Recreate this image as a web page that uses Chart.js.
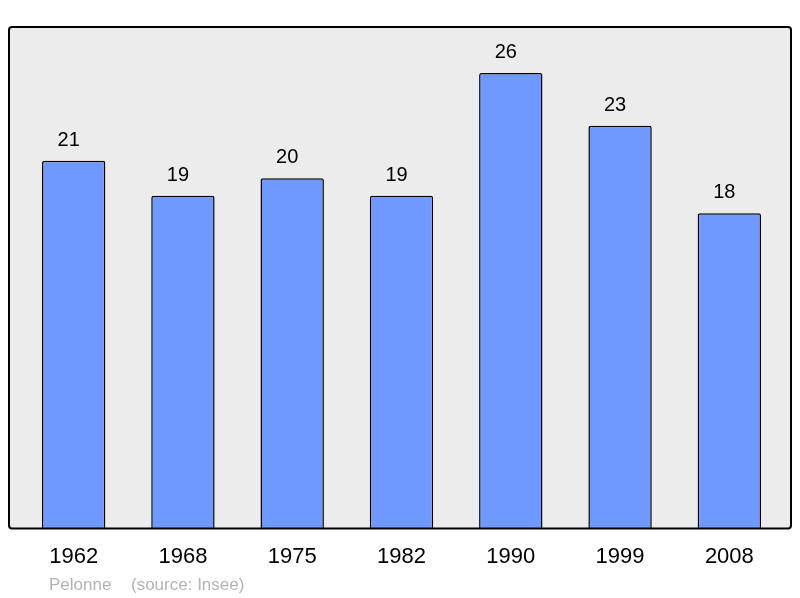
<!DOCTYPE html>
<html>
<head>
<meta charset="utf-8">
<script src="https://cdn.jsdelivr.net/npm/chart.js@4/dist/chart.umd.min.js"></script>
<style>
  html, body { margin: 0; padding: 0; background: #fff; }
  canvas { display: block; }
</style>
</head>
<body>
<canvas id="chart" width="800" height="598"></canvas>
<script>
const years = ['1962', '1968', '1975', '1982', '1990', '1999', '2008']
const population = [21, 19, 20, 19, 26, 23, 18]
const place = 'Pelonne'
const source = '(source: Insee)'

const FONT = '"Liberation Sans", Arial, sans-serif'

// grey frame behind the bars, black outline on top
const frame = {
  id: 'frame',
  path(ctx, a) {
    const x = a.left - 10, y = a.top, w = a.right + 7 - x, h = a.bottom - y, r = 3
    ctx.beginPath()
    ctx.roundRect(x, y, w, h, r)
  },
  beforeDatasetsDraw(chart) {
    const ctx = chart.ctx
    ctx.save()
    this.path(ctx, chart.chartArea)
    ctx.fillStyle = '#ececec'
    ctx.fill()
    ctx.restore()
  },
  afterDatasetsDraw(chart) {
    const ctx = chart.ctx
    ctx.save()
    this.path(ctx, chart.chartArea)
    ctx.lineWidth = 2
    ctx.strokeStyle = '#000'
    ctx.stroke()

    // values above bars
    ctx.fillStyle = '#000'
    ctx.font = '20px ' + FONT
    ctx.textAlign = 'center'
    ctx.textBaseline = 'alphabetic'
    chart.getDatasetMeta(0).data.forEach((bar, i) => {
      ctx.fillText(String(population[i]), bar.x - 5, bar.y - 15)
    })

    // footer
    ctx.fillStyle = '#b3b3b3'
    ctx.font = '17px ' + FONT
    ctx.textAlign = 'left'
    ctx.fillText(place, 49, 590)
    ctx.fillText(source, 131, 590)
    ctx.restore()
  },
}

new Chart(document.getElementById('chart'), {
  type: 'bar',
  data: {
    labels: years,
    datasets: [{
      data: population,
      backgroundColor: '#7099ff',
      borderColor: '#000',
      borderWidth: 1.5,
      borderRadius: 2,
      borderSkipped: 'bottom',
      barPercentage: 0.58,
      categoryPercentage: 1,
    }],
  },
  options: {
    responsive: false,
    animation: false,
    layout: { padding: { left: 19, right: 16, top: 27, bottom: 13 } },
    plugins: { legend: { display: false }, tooltip: { enabled: false } },
    scales: {
      x: {
        offset: true,
        grid: { display: false, drawTicks: false },
        border: { display: false },
        ticks: { color: '#000', font: { family: FONT, size: 22 }, padding: 15, maxRotation: 0 },
      },
      y: { display: false, min: 0, max: 28.63 },
    },
  },
  plugins: [frame],
})
</script>
</body>
</html>
